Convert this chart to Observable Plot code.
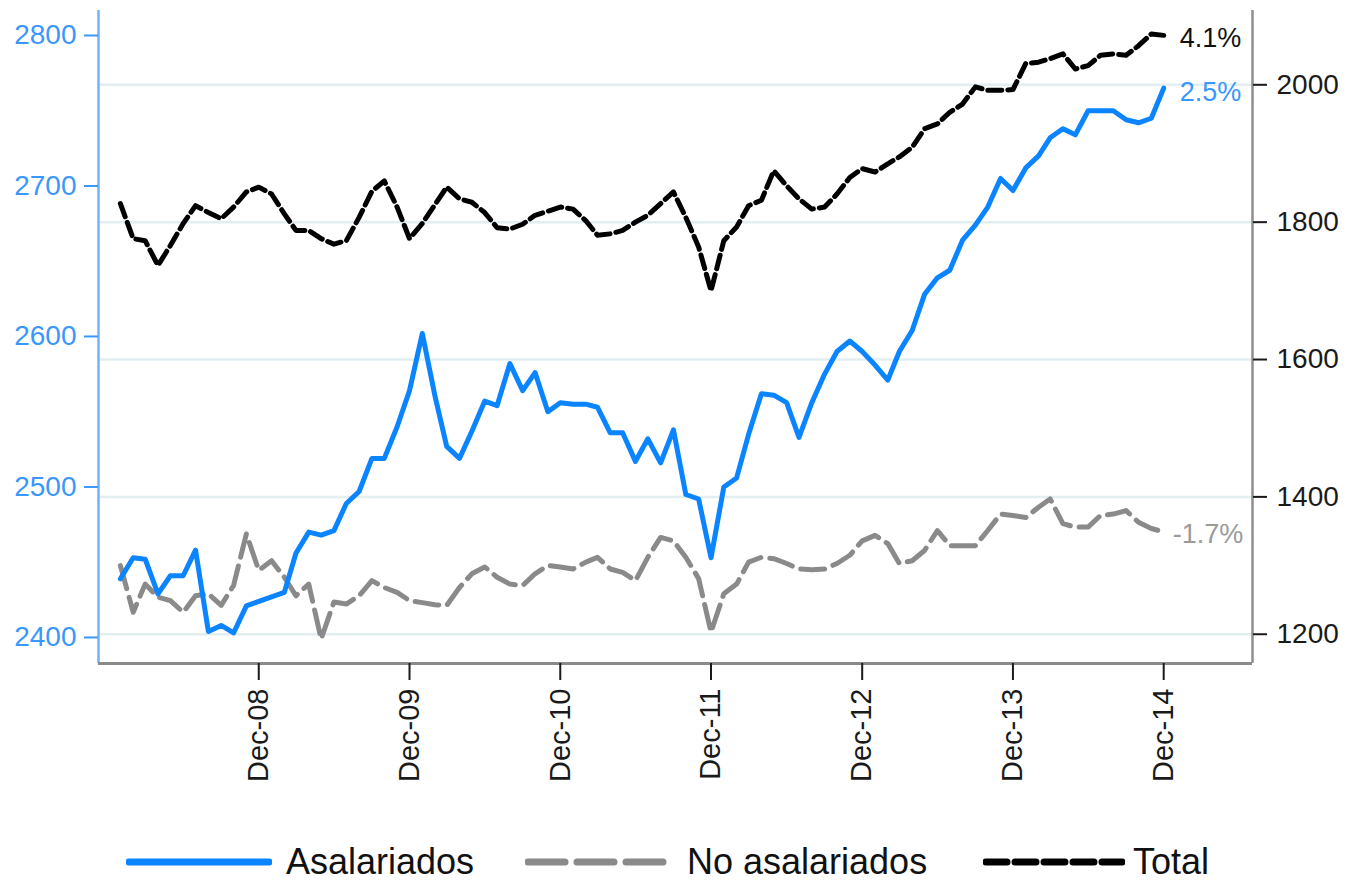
<!DOCTYPE html>
<html>
<head>
<meta charset="utf-8">
<script src="https://cdn.jsdelivr.net/npm/d3@7"></script>
<script src="https://cdn.jsdelivr.net/npm/@observablehq/plot@0.6"></script>
<style>
  html, body { margin: 0; padding: 0; background: #fff; }
  body { font-family: "Liberation Sans", Arial, sans-serif; width: 1346px; height: 886px; overflow: hidden; }
  #legend { position: relative; width: 1346px; height: 64px; }
  .lg-item { position: absolute; top: 0; height: 64px; display: flex; align-items: center; }
  .lg-text { font-size: 36px; color: #111; white-space: nowrap; }
</style>
</head>
<body>
<div id="chart"></div>
<div id="legend"></div>
<script>
// ---- data (monthly, Jan 2008 – Dec 2014) ----
const firstMonth = "2008-01-01";
const lastMonthExclusive = "2015-01-01";

// Asalariados (left axis)
const asalariados = [
  2439, 2453, 2452, 2429, 2441, 2441, 2458, 2404, 2408, 2403, 2421, 2424,
  2427, 2430, 2456, 2470, 2468, 2471, 2489, 2497, 2519, 2519, 2540, 2564,
  2602, 2560, 2527, 2519, 2537, 2557, 2554, 2582, 2564, 2576, 2550, 2556,
  2555, 2555, 2553, 2536, 2536, 2517, 2532, 2516, 2538, 2495, 2492, 2453,
  2500, 2506, 2535, 2562, 2561, 2556, 2533, 2556, 2575, 2590, 2597, 2590,
  2581, 2571, 2590, 2604, 2628, 2639, 2644, 2664, 2674, 2686, 2705, 2697,
  2712, 2720, 2732, 2738, 2734, 2750, 2750, 2750, 2744, 2742, 2745, 2765
];

// No asalariados (right axis)
const noAsalariados = [
  1300, 1232, 1273, 1254, 1249, 1232, 1256, 1259, 1242, 1271, 1346, 1293,
  1307, 1283, 1256, 1273, 1193, 1247, 1244, 1256, 1278, 1268, 1261, 1249,
  1246, 1243, 1242, 1268, 1288, 1298, 1283, 1273, 1271, 1288, 1300, 1298,
  1295, 1305, 1312, 1295, 1290, 1278, 1312, 1341, 1336, 1312, 1281, 1203,
  1259, 1273, 1305, 1312, 1310, 1303, 1295, 1294, 1295, 1303, 1315, 1336,
  1344, 1332, 1303, 1307, 1322, 1351, 1329, 1329, 1329, 1351, 1375, 1373,
  1370, 1385, 1397, 1361, 1356, 1356, 1373, 1375, 1380, 1363, 1354, 1349
];

// Total (right axis)
const total = [
  1827, 1776, 1773, 1737, 1766, 1798, 1824, 1814, 1805, 1822, 1844, 1851,
  1841, 1812, 1788, 1788, 1776, 1768, 1773, 1807, 1845, 1860, 1822, 1776,
  1798, 1826, 1851, 1834, 1829, 1814, 1792, 1790, 1797, 1810, 1816, 1822,
  1819, 1802, 1781, 1783, 1788, 1800, 1810, 1827, 1844, 1807, 1764, 1700,
  1773, 1793, 1824, 1832, 1875, 1853, 1834, 1819, 1822, 1841, 1865, 1878,
  1873, 1885, 1895, 1909, 1936, 1943, 1960, 1972, 1997, 1992, 1992, 1993,
  2031, 2033, 2038, 2045, 2023, 2028, 2043, 2045, 2043, 2057, 2074, 2072
];

const seriesNames = ["Asalariados", "No asalariados", "Total"];
const endLabels = ["2.5%", "-1.7%", "4.1%"];

const xTickDates = ["2008-12-01", "2009-12-01", "2010-12-01", "2011-12-01", "2012-12-01", "2013-12-01", "2014-12-01"];
const xTickLabels = ["Dec-08", "Dec-09", "Dec-10", "Dec-11", "Dec-12", "Dec-13", "Dec-14"];
const leftTicks = [2400, 2500, 2600, 2700, 2800];
const rightTicks = [1200, 1400, 1600, 1800, 2000];

// ---- scales setup ----
const leftDomain = [2382.7, 2816.6];
const rightDomain = [1157.4, 2108.2];
const r2l = d3.scaleLinear(rightDomain, leftDomain);
const xDomain = [new Date("2007-11-09T00:00:00Z"), new Date("2015-07-04T00:00:00Z")];

const colors = { asal: "#0a84ff", noasal: "#8a8a8a", total: "#000000" };

const dates = d3.utcMonth.range(new Date(firstMonth + "T00:00:00Z"), new Date(lastMonthExclusive + "T00:00:00Z"));
const rows = dates.map((date, i) => ({
  date,
  asal: asalariados[i],
  noasal: noAsalariados[i],
  total: total[i]
}));
const last = rows[rows.length - 1];
const tickDateObjs = xTickDates.map(s => new Date(s + "T00:00:00Z"));
const tickLabelOf = new Map(tickDateObjs.map((d, i) => [+d, xTickLabels[i]]));

const H = 822;
const chart = Plot.plot({
  width: 1346,
  height: H,
  marginLeft: 98,
  marginRight: 94,
  marginTop: 10,
  marginBottom: H - 663,
  style: { fontFamily: "'Liberation Sans', Arial, sans-serif", fontSize: "27px", background: "#fff", overflow: "visible" },
  x: { type: "utc", domain: xDomain, axis: null },
  y: { domain: leftDomain, axis: null },
  marks: [
    // gridlines at right-axis ticks
    Plot.ruleY(rightTicks.map(r2l), { stroke: "#e2eef0", strokeWidth: 2.5 }),
    // axis lines
    Plot.ruleX([xDomain[0]], { stroke: "#72b2fa", strokeWidth: 2.5 }),
    Plot.ruleX([xDomain[1]], { stroke: "#8e8e8e", strokeWidth: 2.5 }),
    Plot.ruleY([leftDomain[0]], { stroke: "#8a8a8a", strokeWidth: 3 }),
    // left axis (Asalariados)
    Plot.axisY(leftTicks, {
      anchor: "left", color: "#3a97fb", tickSize: 14, tickPadding: 8,
      fontSize: 28, label: null, strokeWidth: 2,
      tickFormat: d => String(d)
    }),
    // right axis (No asalariados, Total)
    Plot.axisY(rightTicks.map(r2l), {
      anchor: "right", color: "#1a1a1a", tickSize: 14, tickPadding: 10,
      fontSize: 28, label: null, strokeWidth: 2,
      tickFormat: d => String(Math.round(r2l.invert(d)))
    }),
    // x axis
    Plot.axisX(tickDateObjs, {
      anchor: "bottom", color: "#1a1a1a", tickSize: 17, tickPadding: 8,
      tickRotate: -90, fontSize: 29, label: null, strokeWidth: 2,
      tickFormat: d => tickLabelOf.get(+d)
    }),
    // series
    Plot.line(rows, { x: "date", y: d => r2l(d.noasal), stroke: colors.noasal, strokeWidth: 5, strokeDasharray: "24,9", strokeLinejoin: "round" }),
    Plot.line(rows, { x: "date", y: "asal", stroke: colors.asal, strokeWidth: 5, strokeLinejoin: "round" }),
    Plot.line(rows, { x: "date", y: d => r2l(d.total), stroke: colors.total, strokeWidth: 5, strokeDasharray: "14,6", strokeLinejoin: "round" }),
    // end labels
    Plot.text([last], { x: "date", y: d => r2l(d.total), text: () => endLabels[2], textAnchor: "start", dx: 16, dy: 3, fill: "#111", fontSize: 27 }),
    Plot.text([last], { x: "date", y: "asal", text: () => endLabels[0], textAnchor: "start", dx: 16, dy: 4, fill: "#3a97fb", fontSize: 27 }),
    Plot.text([last], { x: "date", y: d => r2l(d.noasal), text: () => endLabels[1], textAnchor: "start", dx: 9, dy: 2, fill: "#9a9a9a", fontSize: 27 })
  ]
});
document.getElementById("chart").appendChild(chart);

// ---- legend (below the SVG) ----
const legend = document.getElementById("legend");
legend.style.marginTop = "8px";
const legendItems = [
  { name: seriesNames[0], color: colors.asal, dash: null, left: 126, sw: 146, gap: 14 },
  { name: seriesNames[1], color: colors.noasal, dash: "37,12", left: 525, sw: 146, gap: 16 },
  { name: seriesNames[2], color: colors.total, dash: "21,8", left: 983, sw: 142, gap: 8 }
];
for (const it of legendItems) {
  const div = document.createElement("div");
  div.className = "lg-item";
  div.style.left = it.left + "px";
  const ns = "http://www.w3.org/2000/svg";
  const svg = document.createElementNS(ns, "svg");
  svg.setAttribute("width", it.sw);
  svg.setAttribute("height", 20);
  svg.style.marginRight = it.gap + "px";
  const ln = document.createElementNS(ns, "line");
  ln.setAttribute("x1", 3); ln.setAttribute("x2", it.sw - 3);
  ln.setAttribute("y1", 10); ln.setAttribute("y2", 10);
  ln.setAttribute("stroke", it.color);
  ln.setAttribute("stroke-width", 7);
  ln.setAttribute("stroke-linecap", "round");
  if (it.dash) ln.setAttribute("stroke-dasharray", it.dash);
  svg.appendChild(ln);
  const span = document.createElement("span");
  span.className = "lg-text";
  span.textContent = it.name;
  div.appendChild(svg);
  div.appendChild(span);
  legend.appendChild(div);
}
</script>
</body>
</html>
